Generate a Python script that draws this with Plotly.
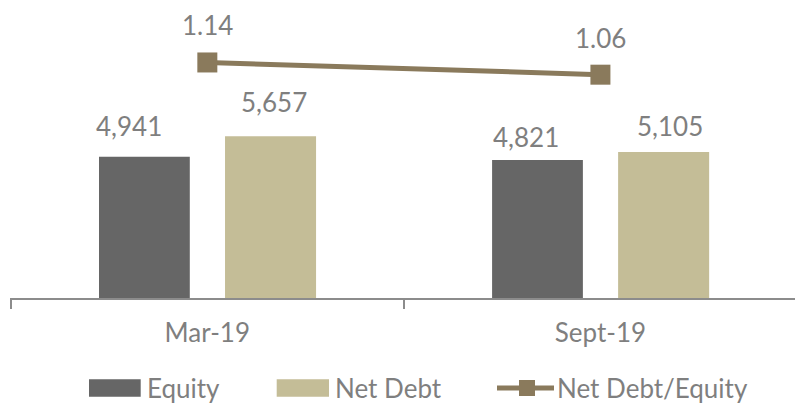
import plotly.graph_objects as go

# ---- data ----
categories = ["Mar-19", "Sept-19"]
equity = [4941, 4821]
net_debt = [5657, 5105]
ratio = [1.14, 1.06]
series_names = ["Equity", "Net Debt", "Net Debt/Equity"]

# ---- styles ----
C_EQ = "#666666"
C_ND = "#c4bd97"
C_LINE = "#8a7a5c"
C_TEXT = "#7f7f7f"
FONT = "Lato"
FS = 26

# plot area geometry (pixels)
W, H = 795, 405
L, R, T, B = 10, 0, 10, 107
PW, PH = W - L - R, H - T - B

def px_x(px):
    return (px - L) / PW

def px_y(py):
    return (H - B - py) / PH

fig = go.Figure()

fig.add_trace(go.Bar(
    x=categories, y=equity, name=series_names[0],
    marker=dict(color=C_EQ, line=dict(width=0)),
    offset=-0.2756, width=0.231, showlegend=False, hoverinfo="skip",
))
fig.add_trace(go.Bar(
    x=categories, y=net_debt, name=series_names[1],
    marker=dict(color=C_ND, line=dict(width=0)),
    offset=0.045, width=0.2316, showlegend=False, hoverinfo="skip",
))
fig.add_trace(go.Scatter(
    x=categories, y=ratio, name=series_names[2], yaxis="y2",
    mode="lines+markers",
    line=dict(color=C_LINE, width=5),
    marker=dict(symbol="square", size=20, color=C_LINE),
    showlegend=False, hoverinfo="skip",
))

annotations = []
# bar value labels (manually-placed style offsets, in px)
eq_shift = [(-15.8, 30.5), (-11.9, 23.3)]
nd_shift = [(3.3, 34.5), (6.5, 26.2)]
eq_center_off = -0.1601  # bar centre offsets in category units
nd_center_off = 0.1608
for i, c in enumerate(categories):
    annotations.append(dict(
        x=i + eq_center_off, y=equity[i], xref="x", yref="y",
        text=f"{equity[i]:,}", showarrow=False,
        xshift=eq_shift[i][0], yshift=eq_shift[i][1], yanchor="middle",
        font=dict(family=FONT, size=FS, color=C_TEXT),
    ))
    annotations.append(dict(
        x=i + nd_center_off, y=net_debt[i], xref="x", yref="y",
        text=f"{net_debt[i]:,}", showarrow=False,
        xshift=nd_shift[i][0], yshift=nd_shift[i][1], yanchor="middle",
        font=dict(family=FONT, size=FS, color=C_TEXT),
    ))
    annotations.append(dict(
        x=i, y=ratio[i], xref="x", yref="y2",
        text=f"{ratio[i]:.2f}", showarrow=False,
        yshift=37, yanchor="middle",
        font=dict(family=FONT, size=FS, color=C_TEXT),
    ))

# custom legend
shapes = []
legend_y = 388.0
sw_h = 17.3
shapes.append(dict(type="rect", xref="paper", yref="paper",
                   x0=px_x(89), x1=px_x(140.7),
                   y0=px_y(legend_y + sw_h / 2), y1=px_y(legend_y - sw_h / 2),
                   fillcolor=C_EQ, line=dict(width=0)))
shapes.append(dict(type="rect", xref="paper", yref="paper",
                   x0=px_x(276.7), x1=px_x(329),
                   y0=px_y(legend_y + sw_h / 2), y1=px_y(legend_y - sw_h / 2),
                   fillcolor=C_ND, line=dict(width=0)))
shapes.append(dict(type="line", xref="paper", yref="paper",
                   x0=px_x(497), x1=px_x(554), y0=px_y(legend_y), y1=px_y(legend_y),
                   line=dict(color=C_LINE, width=5)))
shapes.append(dict(type="rect", xref="paper", yref="paper",
                   x0=px_x(519), x1=px_x(535),
                   y0=px_y(legend_y + 8), y1=px_y(legend_y - 8),
                   fillcolor=C_LINE, line=dict(width=0)))
for name, xpx in zip(series_names, [145, 333, 555]):
    annotations.append(dict(
        x=px_x(xpx), y=px_y(legend_y), xref="paper", yref="paper",
        text=name, showarrow=False, xanchor="left", yanchor="middle",
        font=dict(family=FONT, size=FS, color=C_TEXT),
    ))

fig.update_layout(
    width=W, height=H,
    margin=dict(l=L, r=R, t=T, b=B, pad=0),
    paper_bgcolor="white", plot_bgcolor="white",
    barmode="group",
    showlegend=False,
    font=dict(family=FONT, size=FS, color=C_TEXT),
    xaxis=dict(
        type="category", range=[-0.502, 1.495],
        showline=True, linecolor="#8c8c8c", linewidth=2,
        ticks="outside", tickson="boundaries", ticklen=9,
        tickcolor="#8c8c8c", tickwidth=1.5,
        ticklabelstandoff=11,
        showgrid=False, zeroline=False,
        tickfont=dict(family=FONT, size=FS, color=C_TEXT),
    ),
    yaxis=dict(range=[0, PH / 0.0286], visible=False, showgrid=False, zeroline=False),
    yaxis2=dict(range=[-0.404, 1.484], overlaying="y", visible=False,
                showgrid=False, zeroline=False),
    annotations=annotations,
    shapes=shapes,
)

fig.write_html(
    "out.html",
    config={"displayModeBar": False},
    post_script="document.body.style.margin='0';document.body.style.overflow='hidden';",
)
